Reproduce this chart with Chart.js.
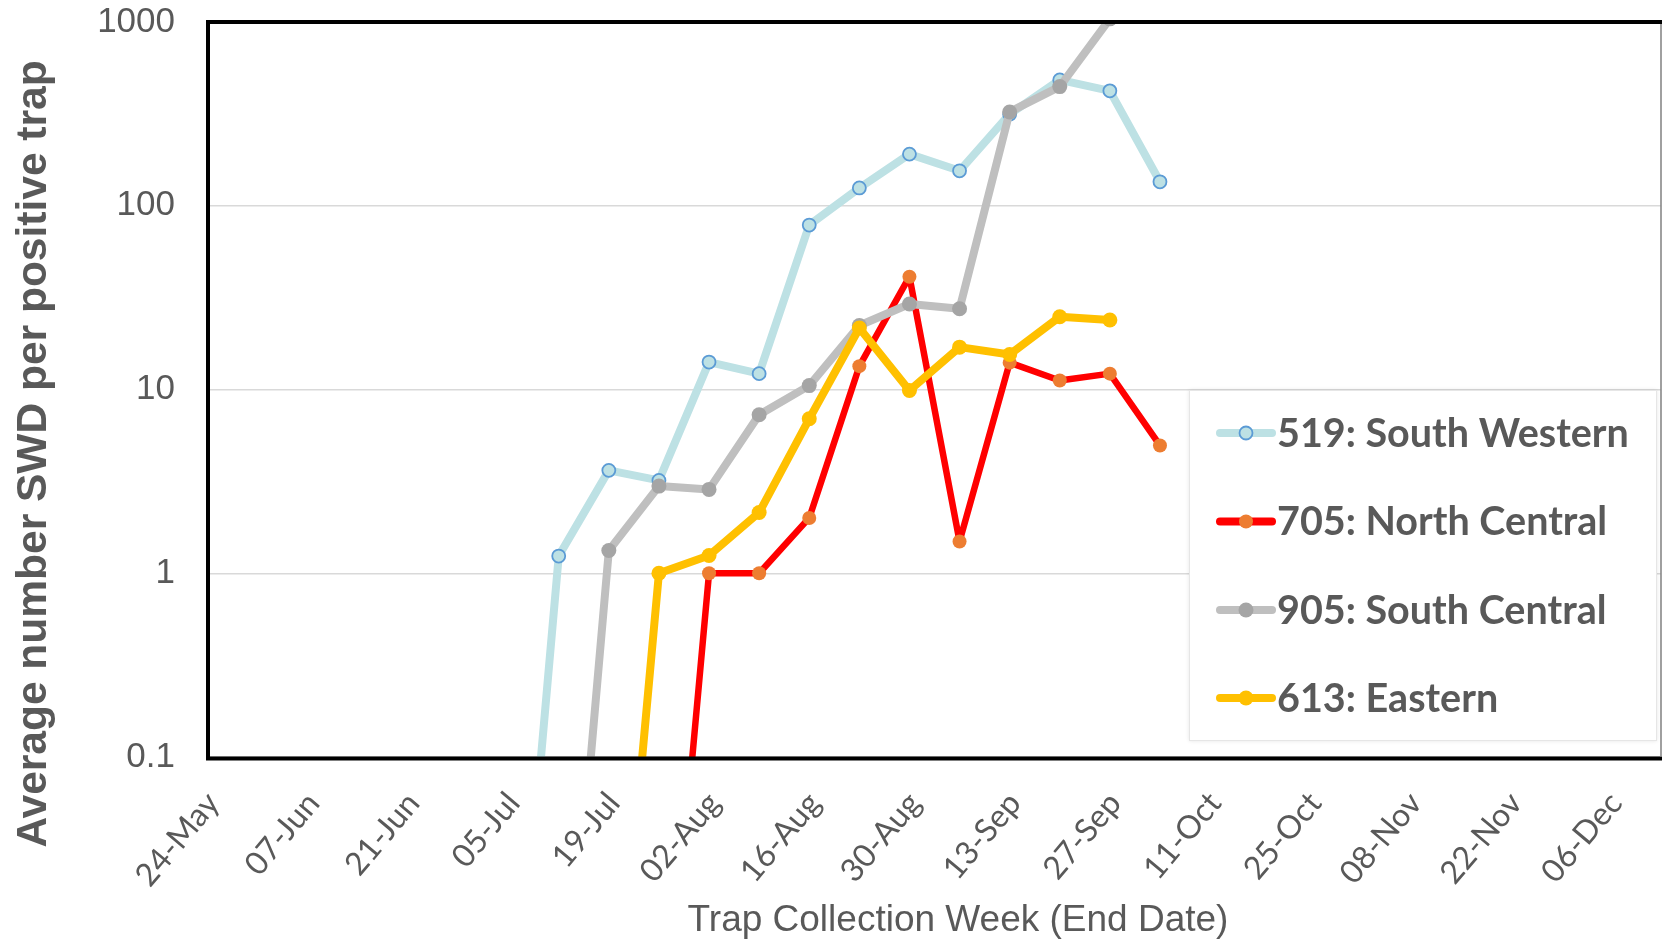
<!DOCTYPE html>
<html>
<head>
<meta charset="utf-8">
<script src="https://cdn.jsdelivr.net/npm/chart.js@4.4.0/dist/chart.umd.min.js"></script>
<style>
html,body{margin:0;padding:0;background:#ffffff;overflow:hidden}
canvas{display:block}
</style>
</head>
<body>
<canvas id="c" width="1662" height="939"></canvas>
<script>
// ---------------- data ----------------
const axisStartDate = '2020-05-24';
const axisEndDate = '2020-12-13';
const weekEndDates = ['2020-07-05','2020-07-12','2020-07-19','2020-07-26','2020-08-02','2020-08-09','2020-08-16',
                      '2020-08-23','2020-08-30','2020-09-06','2020-09-13','2020-09-20','2020-09-27','2020-10-04'];
const southWestern519 = [0.001, 1.24, 3.63, 3.2, 14.1, 12.2, 78.5, 125, 191, 155, 315, 484, 422, 135];
const northCentral705 = [0.001, 0.001, 0.001, 0.001, 1.0, 1.0, 2.0, 13.4, 41.1, 1.49, 14.0, 11.2, 12.2, 4.96];
const southCentral905 = [0.001, 0.001, 1.33, 2.98, 2.86, 7.29, 10.5, 22.3, 29.2, 27.5, 324, 445, 1040, null];
const eastern613      = [0.001, 0.001, 0.001, 1.0, 1.25, 2.14, 6.93, 21.6, 9.88, 17.0, 15.5, 24.9, 23.9, null];
const seriesNames = ['519: South Western', '705: North Central', '905: South Central', '613: Eastern'];

const xTickDates = ['2020-05-24','2020-06-07','2020-06-21','2020-07-05','2020-07-19','2020-08-02','2020-08-16',
                    '2020-08-30','2020-09-13','2020-09-27','2020-10-11','2020-10-25','2020-11-08','2020-11-22','2020-12-06'];
const xTickLabels = ['24-May','07-Jun','21-Jun','05-Jul','19-Jul','02-Aug','16-Aug','30-Aug','13-Sep','27-Sep',
                     '11-Oct','25-Oct','08-Nov','22-Nov','06-Dec'];
const yTickValues = [0.1, 1, 10, 100, 1000];
const yTickLabels = ['0.1', '1', '10', '100', '1000'];
const xAxisTitle = 'Trap Collection Week (End Date)';
const yAxisTitle = 'Average number SWD per positive trap';

// ---------------- helpers ----------------
const dayOf = d => (Date.parse(d + 'T00:00:00Z') - Date.parse(axisStartDate + 'T00:00:00Z')) / 86400000;
const toPoints = vals => weekEndDates.map((d, i) => ({x: dayOf(d), y: vals[i]}));

const TEXT = '#595959';

const datasets = [
  {label: seriesNames[0], data: toPoints(southWestern519), borderColor: '#BDE1E4', borderWidth: 8,
   pointRadius: 6.5, pointBackgroundColor: '#BDE1E4', pointBorderColor: '#5B9BD5', pointBorderWidth: 1.8, order: 4},
  {label: seriesNames[1], data: toPoints(northCentral705), borderColor: '#FF0000', borderWidth: 6.5,
   pointRadius: 7, pointBackgroundColor: '#ED7D31', pointBorderColor: '#ED7D31', pointBorderWidth: 0, order: 3},
  {label: seriesNames[2], data: toPoints(southCentral905), borderColor: '#BFBFBF', borderWidth: 8,
   pointRadius: 7.5, pointBackgroundColor: '#A5A5A5', pointBorderColor: '#A5A5A5', pointBorderWidth: 0, order: 2},
  {label: seriesNames[3], data: toPoints(eastern613), borderColor: '#FFC000', borderWidth: 8,
   pointRadius: 7.5, pointBackgroundColor: '#FFC000', pointBorderColor: '#FFC000', pointBorderWidth: 0, order: 1}
];
datasets.forEach(ds => {
  ds.tension = 0; ds.borderJoinStyle = 'round'; ds.borderCapStyle = 'round'; ds.spanGaps = false;
  ds.pointHoverRadius = ds.pointRadius; ds.fill = false;
});

// ---------------- plugins ----------------
const framePlugin = {
  id: 'frame',
  afterDatasetsDraw(chart) {
    const {ctx, chartArea: a} = chart;
    ctx.save();
    ctx.strokeStyle = '#000000';
    ctx.lineWidth = 4;
    ctx.beginPath();
    ctx.moveTo(a.left, a.bottom + 1.5);
    ctx.lineTo(a.left, a.top);
    ctx.lineTo(1662, a.top);
    ctx.moveTo(a.left - 2, a.bottom + 1.5);
    ctx.lineTo(1662, a.bottom + 1.5);
    ctx.stroke();
    ctx.strokeStyle = '#808080';
    ctx.lineWidth = 1.5;
    ctx.beginPath();
    ctx.moveTo(a.right, a.top + 2);
    ctx.lineTo(a.right, a.bottom);
    ctx.stroke();
    ctx.restore();
  }
};

const titlesAndLegendPlugin = {
  id: 'titlesLegend',
  afterDraw(chart) {
    const {ctx} = chart;
    ctx.save();
    // axis titles
    ctx.fillStyle = TEXT;
    ctx.font = 'bold 42.5px "Liberation Sans", Arial, sans-serif';
    ctx.textAlign = 'center';
    ctx.textBaseline = 'alphabetic';
    ctx.translate(46, 454);
    ctx.rotate(-Math.PI / 2);
    ctx.fillText(yAxisTitle, 0, 0);
    ctx.setTransform(1, 0, 0, 1, 0, 0);
    ctx.font = '37px "Liberation Sans", Arial, sans-serif';
    ctx.fillText(xAxisTitle, 958, 931);

    // legend box
    const bx = 1189, by = 390, bw = 468, bh = 351;
    ctx.shadowColor = 'rgba(0,0,0,0.10)';
    ctx.shadowBlur = 4;
    ctx.fillStyle = '#FFFFFF';
    ctx.fillRect(bx, by, bw, bh);
    ctx.shadowColor = 'transparent';
    ctx.shadowBlur = 0;
    ctx.strokeStyle = '#E6E6E6';
    ctx.lineWidth = 1;
    ctx.strokeRect(bx + 0.5, by + 0.5, bw - 1, bh - 1);

    const rowY = [433, 521.5, 610, 698];
    chart.data.datasets.forEach((ds, i) => {
      const y = rowY[i];
      ctx.strokeStyle = ds.borderColor;
      ctx.lineWidth = Math.max(ds.borderWidth, 8);
      ctx.lineCap = 'round';
      ctx.beginPath();
      ctx.moveTo(1220, y);
      ctx.lineTo(1272, y);
      ctx.stroke();
      ctx.beginPath();
      ctx.arc(1246, y, ds.pointRadius, 0, Math.PI * 2);
      ctx.fillStyle = ds.pointBackgroundColor;
      ctx.fill();
      if (ds.pointBorderWidth > 0) {
        ctx.lineWidth = ds.pointBorderWidth;
        ctx.strokeStyle = ds.pointBorderColor;
        ctx.stroke();
      }
      ctx.fillStyle = TEXT;
      ctx.font = 'bold 39.5px Lato, "Noto Sans", sans-serif';
      ctx.textAlign = 'left';
      ctx.textBaseline = 'middle';
      ctx.fillText(ds.label, 1277, y + 1);
    });
    ctx.restore();
  }
};

// ---------------- chart ----------------
new Chart(document.getElementById('c'), {
  type: 'line',
  data: {datasets},
  options: {
    responsive: false,
    devicePixelRatio: 1,
    animation: false,
    events: [],
    layout: {autoPadding: false, padding: {left: 0, top: 22, right: 1, bottom: 0}},
    plugins: {legend: {display: false}, tooltip: {enabled: false}, title: {display: false}},
    scales: {
      x: {
        type: 'linear',
        min: dayOf(axisStartDate),
        max: dayOf(axisEndDate),
        grid: {display: true, drawOnChartArea: false, drawTicks: true, tickLength: 28, tickColor: 'rgba(0,0,0,0)'},
        border: {display: false},
        ticks: {
          autoSkip: false,
          minRotation: 50,
          maxRotation: 50,
          padding: 0,
          labelOffset: 5,
          color: TEXT,
          font: {family: 'Lato, "Noto Sans", sans-serif', size: 32},
          callback: (v, i) => xTickLabels[i]
        },
        afterBuildTicks: s => { s.ticks = xTickDates.map(d => ({value: dayOf(d)})); },
        afterFit: s => { s.height = 182; s.paddingLeft = 0; s.paddingRight = 0; }
      },
      y: {
        type: 'logarithmic',
        min: yTickValues[0],
        max: yTickValues[yTickValues.length - 1],
        grid: {color: '#D9D9D9', lineWidth: 1.5, drawTicks: true, tickLength: 33, tickColor: 'rgba(0,0,0,0)'},
        border: {display: false},
        ticks: {
          padding: 0,
          color: TEXT,
          font: {family: '"Liberation Sans", Arial, sans-serif', size: 35},
          callback: (v, i) => yTickLabels[i]
        },
        afterBuildTicks: s => { s.ticks = yTickValues.map(v => ({value: v})); },
        afterFit: s => { s.width = 208; s.paddingTop = 0; s.paddingBottom = 0; }
      }
    }
  },
  plugins: [framePlugin, titlesAndLegendPlugin]
});
</script>
</body>
</html>
